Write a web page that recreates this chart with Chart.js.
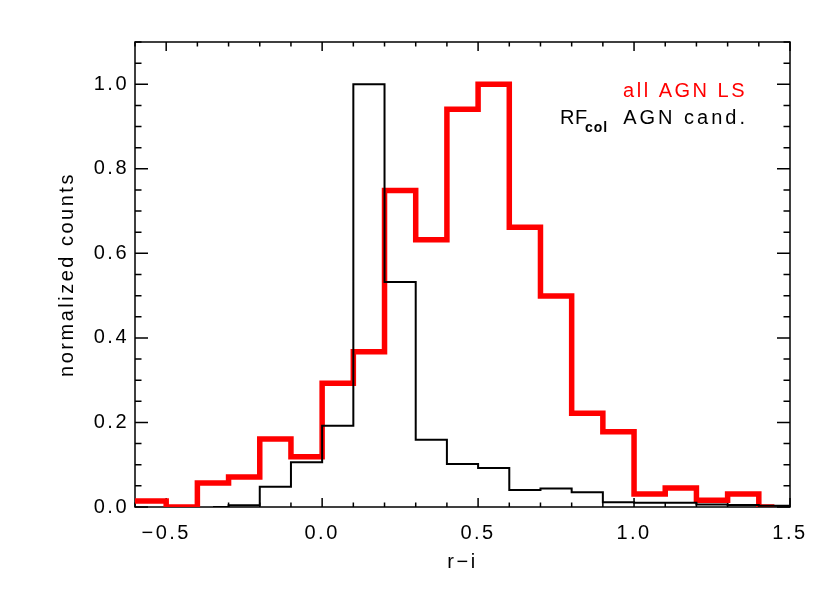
<!DOCTYPE html>
<html>
<head>
<meta charset="utf-8">
<script src="https://cdn.jsdelivr.net/npm/chart.js@4.4.0/dist/chart.umd.min.js"></script>
<style>
  html, body { margin: 0; padding: 0; background: #fff; }
  canvas { display: block; }
</style>
</head>
<body>
<canvas id="chart" width="830" height="593"></canvas>
<script>
// Histogram bin centres (r-i), bin width 0.1, drawn IDL psym=10 style
const allAgnCentres = [-0.65, -0.55, -0.45, -0.35, -0.25, -0.15, -0.05, 0.05, 0.15, 0.25, 0.35,
                       0.45, 0.55, 0.65, 0.75, 0.85, 0.95, 1.05, 1.15, 1.25, 1.35, 1.45];
const allAgnCounts = [0.014, 0.014, 0.0, 0.057, 0.071, 0.161, 0.119, 0.293, 0.367, 0.749, 0.632,
                      0.941, 1.0, 0.662, 0.499, 0.222, 0.178, 0.031, 0.045, 0.016, 0.031, 0.0];

const rfColCentres = [-0.35, -0.25, -0.15, -0.05, 0.05, 0.15, 0.25, 0.35, 0.45, 0.55,
                      0.65, 0.75, 0.85, 0.95, 1.05, 1.15, 1.25, 1.35, 1.45, 1.55];
const rfColCounts = [0.0, 0.004, 0.048, 0.106, 0.192, 1.0, 0.532, 0.159, 0.102, 0.092,
                     0.040, 0.044, 0.035, 0.011, 0.010, 0.010, 0.006, 0.005, 0.003, 0.003];

const xTickValues = [-0.5, 0.0, 0.5, 1.0, 1.5];
const yTickValues = [0.0, 0.2, 0.4, 0.6, 0.8, 1.0];

const FONT = "'Liberation Sans', Helvetica, Arial, sans-serif";
const SIZE = 20;

function fmt(v) {
    return (v < 0 ? '\u2212' : '') + Math.abs(v).toFixed(1);
}

// Frame plus inward ticks on all four sides (IDL look)
const frameTicks = {
    id: 'frameTicks',
    beforeDraw(chart) {
        chart.ctx.letterSpacing = '2.5px';
    },
    beforeDatasetsDraw(chart) {
        const { ctx, chartArea: a, scales: { x, y } } = chart;
        ctx.save();
        ctx.strokeStyle = '#000';
        ctx.lineWidth = 1.5;
        ctx.strokeRect(a.left, a.top, a.right - a.left, a.bottom - a.top);
        ctx.beginPath();
        for (let i = -6; i <= 15; i++) {
            const px = x.getPixelForValue(i / 10);
            const len = (i % 5 === 0) ? 9 : 4.5;
            ctx.moveTo(px, a.bottom); ctx.lineTo(px, a.bottom - len);
            ctx.moveTo(px, a.top); ctx.lineTo(px, a.top + len);
        }
        for (let i = 0; i <= 22; i++) {
            const py = y.getPixelForValue(i * 0.05);
            const len = (i % 4 === 0) ? 13 : 6.5;
            ctx.moveTo(a.left, py); ctx.lineTo(a.left + len, py);
            ctx.moveTo(a.right, py); ctx.lineTo(a.right - len, py);
        }
        ctx.stroke();
        ctx.restore();
    },
    afterDraw(chart) {
        const ctx = chart.ctx;
        ctx.save();
        ctx.textBaseline = 'alphabetic';
        ctx.letterSpacing = '2.5px';
        ctx.font = SIZE + 'px ' + FONT;
        ctx.fillStyle = '#ff0000';
        ctx.textAlign = 'right';
        ctx.fillText('all AGN LS', 747, 97);

        ctx.fillStyle = '#000';
        ctx.letterSpacing = '3px';
        ctx.fillText('AGN cand.', 748, 124);
        ctx.textAlign = 'left';
        ctx.letterSpacing = '0.5px';
        ctx.fillText('RF', 560, 124);
        ctx.font = 'bold 14px ' + FONT;
        ctx.letterSpacing = '1px';
        ctx.fillText('col', 585, 131.5);
        ctx.restore();
    }
};

const ctx = document.getElementById('chart').getContext('2d');

new Chart(ctx, {
    type: 'line',
    data: {
        datasets: [
            {
                label: 'all AGN LS',
                data: allAgnCentres.map((c, i) => ({ x: c, y: allAgnCounts[i] })),
                borderColor: '#ff0000',
                borderWidth: 5.5,
                stepped: 'middle',
                pointRadius: 0,
                fill: false,
                order: 2
            },
            {
                label: 'RF col AGN cand.',
                data: rfColCentres.map((c, i) => ({ x: c, y: rfColCounts[i] })),
                borderColor: '#000000',
                borderWidth: 2,
                stepped: 'middle',
                pointRadius: 0,
                fill: false,
                order: 1
            }
        ]
    },
    options: {
        responsive: false,
        devicePixelRatio: 1,
        animation: false,
        events: [],
        layout: { padding: { top: 42, right: 40, left: 0, bottom: 0 } },
        font: { family: FONT, size: SIZE },
        scales: {
            x: {
                type: 'linear',
                min: -0.6,
                max: 1.5,
                grid: { display: false, drawTicks: false },
                border: { display: false },
                afterFit: s => { s.height = 86; },
                afterBuildTicks: s => { s.ticks = xTickValues.map(v => ({ value: v })); },
                ticks: {
                    color: '#000',
                    font: { family: FONT, size: SIZE },
                    padding: 14,
                    maxRotation: 0,
                    autoSkip: false,
                    callback: v => fmt(v)
                },
                title: {
                    display: true,
                    text: 'r\u2212i',
                    color: '#000',
                    font: { family: FONT, size: SIZE },
                    padding: { top: 0, bottom: 19 }
                }
            },
            y: {
                min: 0,
                max: 1.1,
                grid: { display: false, drawTicks: false },
                border: { display: false },
                afterFit: s => { s.width = 135; },
                afterBuildTicks: s => { s.ticks = yTickValues.map(v => ({ value: v })); },
                ticks: {
                    color: '#000',
                    font: { family: FONT, size: SIZE },
                    padding: 6,
                    autoSkip: false,
                    callback: v => fmt(v)
                },
                title: {
                    display: true,
                    text: 'normalized counts',
                    color: '#000',
                    font: { family: FONT, size: SIZE },
                    padding: { top: 55, bottom: 0 }
                }
            }
        },
        plugins: {
            legend: { display: false },
            tooltip: { enabled: false }
        }
    },
    plugins: [frameTicks]
});
</script>
</body>
</html>
